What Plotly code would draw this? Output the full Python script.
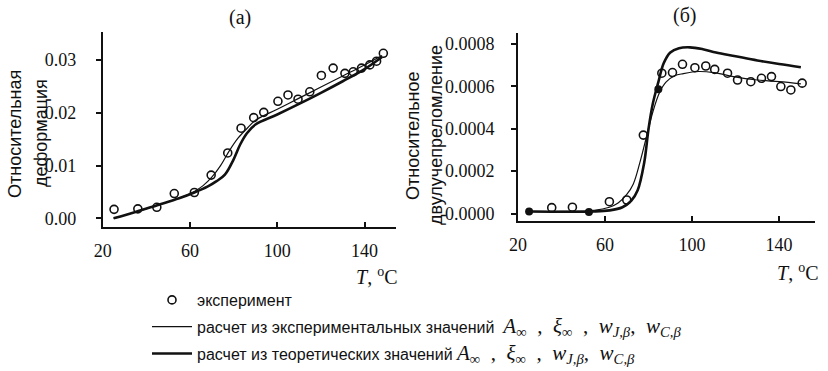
import plotly.graph_objects as go

# ---------- data ----------
# panel (а): relative deformation
exp_a_T = [25.2, 36.1, 44.8, 52.8, 62.0, 69.7, 77.3, 83.4, 89.2, 93.8, 100.3, 104.9,
           109.5, 114.9, 120.2, 125.6, 131.0, 134.8, 138.6, 142.4, 145.5, 148.6]
exp_a_v = [0.0017, 0.0018, 0.0021, 0.0047, 0.0049, 0.0082, 0.0124, 0.0171, 0.0191, 0.0201,
           0.0222, 0.0234, 0.0226, 0.0240, 0.0271, 0.0285, 0.0275, 0.0278, 0.0285, 0.0291,
           0.0298, 0.0313]

thin_a_T = [25, 35, 45, 55, 62, 66, 70, 74, 78, 82, 86, 90, 100, 110, 120, 130, 140, 148]
thin_a_v = [0.0000, 0.0012, 0.0025, 0.0038, 0.0051, 0.0062, 0.0078, 0.0100, 0.0128, 0.0152,
            0.0170, 0.0186, 0.0207, 0.0228, 0.0249, 0.0270, 0.0291, 0.0309]

thick_a_T = [25, 35, 45, 55, 62, 68, 72, 76, 80, 83, 86, 90, 100, 110, 120, 130, 140, 148]
thick_a_v = [0.0000, 0.0012, 0.0025, 0.0038, 0.0049, 0.0060, 0.0070, 0.0083, 0.0112, 0.0140,
             0.0161, 0.0178, 0.0197, 0.0217, 0.0238, 0.0260, 0.0283, 0.0306]

# panel (б): relative birefringence
exp_b_T = [35.5, 45.0, 62.0, 70.0, 77.6, 86.1, 91.0, 95.6, 101.3, 106.3, 110.4, 116.3,
           120.9, 127.0, 131.9, 136.5, 140.8, 145.4, 150.6]
exp_b_v = [0.000028, 0.000030, 0.000056, 0.000064, 0.000370, 0.000662, 0.000665, 0.000704,
           0.000688, 0.000696, 0.000680, 0.000662, 0.000630, 0.000622, 0.000638, 0.000646,
           0.000599, 0.000583, 0.000615]
exp_b_filled_T = [25.1, 52.6, 84.5]
exp_b_filled_v = [0.000010, 0.000008, 0.000586]

thin_b_T = [25, 40, 55, 62, 66, 70, 73, 76, 79, 82, 85, 88, 92, 96, 103, 110, 119, 130, 140, 150]
thin_b_v = [0.00001, 0.00001, 0.000015, 0.00003, 0.00005, 0.00009, 0.00014, 0.00024, 0.00036,
            0.00048, 0.00057, 0.00062, 0.00065, 0.00066, 0.00067, 0.000665, 0.000646,
            0.00063, 0.000622, 0.000612]

thick_b_T = [25, 55, 62, 68, 72, 75, 78, 80, 82, 84.5, 87, 90, 94, 99, 105, 111, 120, 130, 140, 150]
thick_b_v = [0.00001, 0.00001, 0.000015, 0.00003, 0.00006, 0.00011, 0.00024, 0.00040, 0.00052,
             0.00062, 0.00071, 0.00076, 0.00078, 0.000784, 0.000775, 0.00076, 0.000742,
             0.000722, 0.000705, 0.00069]

x_ticks = [20, 60, 100, 140]
y_ticks_a = [0.00, 0.01, 0.02, 0.03]
y_ticks_b = [0.0, 0.0002, 0.0004, 0.0006, 0.0008]

math_part = ('<span style="font-family:Liberation Serif;font-size:21px"><i>A</i><sub>∞</sub>&nbsp; ,&nbsp; '
             '<i>ξ</i><sub>∞</sub>&nbsp; ,&nbsp; <i>w</i><sub><i>J,β</i></sub>,&nbsp; <i>w</i><sub><i>C,β</i></sub></span>')
name_exp = 'эксперимент'
name_thin = 'расчет из экспериментальных значений&nbsp; ' + math_part
name_thick = 'расчет из теоретических значений ' + math_part

BLACK = '#111111'
W, H = 828, 371

fig = go.Figure()

marker_open = dict(symbol='circle-open', size=8, color=BLACK, line=dict(width=1.6, color=BLACK))

# panel (а)
fig.add_trace(go.Scatter(x=exp_a_T, y=exp_a_v, mode='markers', marker=marker_open,
                         name=name_exp, legendgroup='g1', xaxis='x', yaxis='y'))
fig.add_trace(go.Scatter(x=thin_a_T, y=thin_a_v, mode='lines', line=dict(color=BLACK, width=1.2, shape='spline'),
                         name=name_thin, legendgroup='g2', xaxis='x', yaxis='y'))
fig.add_trace(go.Scatter(x=thick_a_T, y=thick_a_v, mode='lines', line=dict(color=BLACK, width=2.6, shape='spline'),
                         name=name_thick, legendgroup='g3', xaxis='x', yaxis='y'))
# panel (б)
fig.add_trace(go.Scatter(x=thin_b_T, y=thin_b_v, mode='lines', line=dict(color=BLACK, width=1.2, shape='spline'),
                         showlegend=False, xaxis='x2', yaxis='y2'))
fig.add_trace(go.Scatter(x=thick_b_T, y=thick_b_v, mode='lines', line=dict(color=BLACK, width=2.6, shape='spline'),
                         showlegend=False, xaxis='x2', yaxis='y2'))
fig.add_trace(go.Scatter(x=exp_b_T, y=exp_b_v, mode='markers', marker=marker_open,
                         showlegend=False, xaxis='x2', yaxis='y2'))
fig.add_trace(go.Scatter(x=exp_b_filled_T, y=exp_b_filled_v, mode='markers',
                         marker=dict(symbol='circle', size=8, color=BLACK),
                         showlegend=False, xaxis='x2', yaxis='y2'))

tickfont = dict(family='Liberation Serif, serif', size=18, color=BLACK)
common_x = dict(tickvals=x_ticks, ticks='inside', ticklen=5, tickwidth=1.5, tickcolor=BLACK,
                showline=True, linewidth=1.8, linecolor=BLACK, showgrid=False, zeroline=False,
                tickfont=tickfont, ticklabelstandoff=6, automargin=False)
common_y = dict(ticks='outside', ticklen=5, tickwidth=1.5, tickcolor=BLACK,
                showline=True, linewidth=1.8, linecolor=BLACK, showgrid=False, zeroline=False,
                tickfont=tickfont, automargin=False)

def px_x(p):
    return p / W

def px_y(p):
    return 1 - p / H

fig.update_layout(
    width=W, height=H, margin=dict(l=0, r=0, t=0, b=0, autoexpand=False),
    paper_bgcolor='white', plot_bgcolor='white',
    showlegend=True,
    xaxis=dict(domain=[px_x(102.7), px_x(396)], range=[20, 154.4], anchor='y', **common_x),
    yaxis=dict(domain=[px_y(227.3), px_y(31.7)], range=[-0.0017, 0.0354], anchor='x',
               tickvals=y_ticks_a, tickformat='.2f', ticklabelstandoff=16, **common_y),
    xaxis2=dict(domain=[px_x(518), px_x(815)], range=[20, 156.5], anchor='y2', **common_x),
    yaxis2=dict(domain=[px_y(221), px_y(32.7)], range=[-0.000035, 0.000853], anchor='x2',
                tickvals=y_ticks_b, tickformat='.4f', ticklabelstandoff=13, **common_y),
    legend=dict(x=px_x(147), y=px_y(283), xanchor='left', yanchor='top', itemwidth=40,
                font=dict(family='Liberation Sans', size=16, color=BLACK),
                bgcolor='rgba(0,0,0,0)', tracegroupgap=3, traceorder='grouped'),
)

ann_font_serif = dict(family='Liberation Serif', size=20, color=BLACK)
ann_font_sans = dict(family='Liberation Sans', size=18, color=BLACK)
annotations = [
    dict(text='(а)', x=px_x(240), y=px_y(18), font=ann_font_serif),
    dict(text='(б)', x=px_x(685), y=px_y(16), font=ann_font_serif),
    dict(text='<i>T</i>, <sup>o</sup>C', x=px_x(376), y=px_y(276), font=ann_font_serif),
    dict(text='<i>T</i>, <sup>o</sup>C', x=px_x(797), y=px_y(272), font=ann_font_serif),
    dict(text='Относительная', x=px_x(15), y=px_y(134), textangle=-90, font=ann_font_sans),
    dict(text='деформация', x=px_x(41), y=px_y(133), textangle=-90, font=ann_font_sans),
    dict(text='Относительное', x=px_x(413), y=px_y(136), textangle=-90, font=ann_font_sans),
    dict(text='двулучепреломление', x=px_x(436), y=px_y(135), textangle=-90, font=ann_font_sans),
]
for a in annotations:
    a.update(xref='paper', yref='paper', showarrow=False, xanchor='center', yanchor='middle')
fig.update_layout(annotations=annotations)

fig.write_html('out.html', config={'displayModeBar': False},
               post_script="document.body.style.margin='0';document.body.style.overflow='hidden';")
